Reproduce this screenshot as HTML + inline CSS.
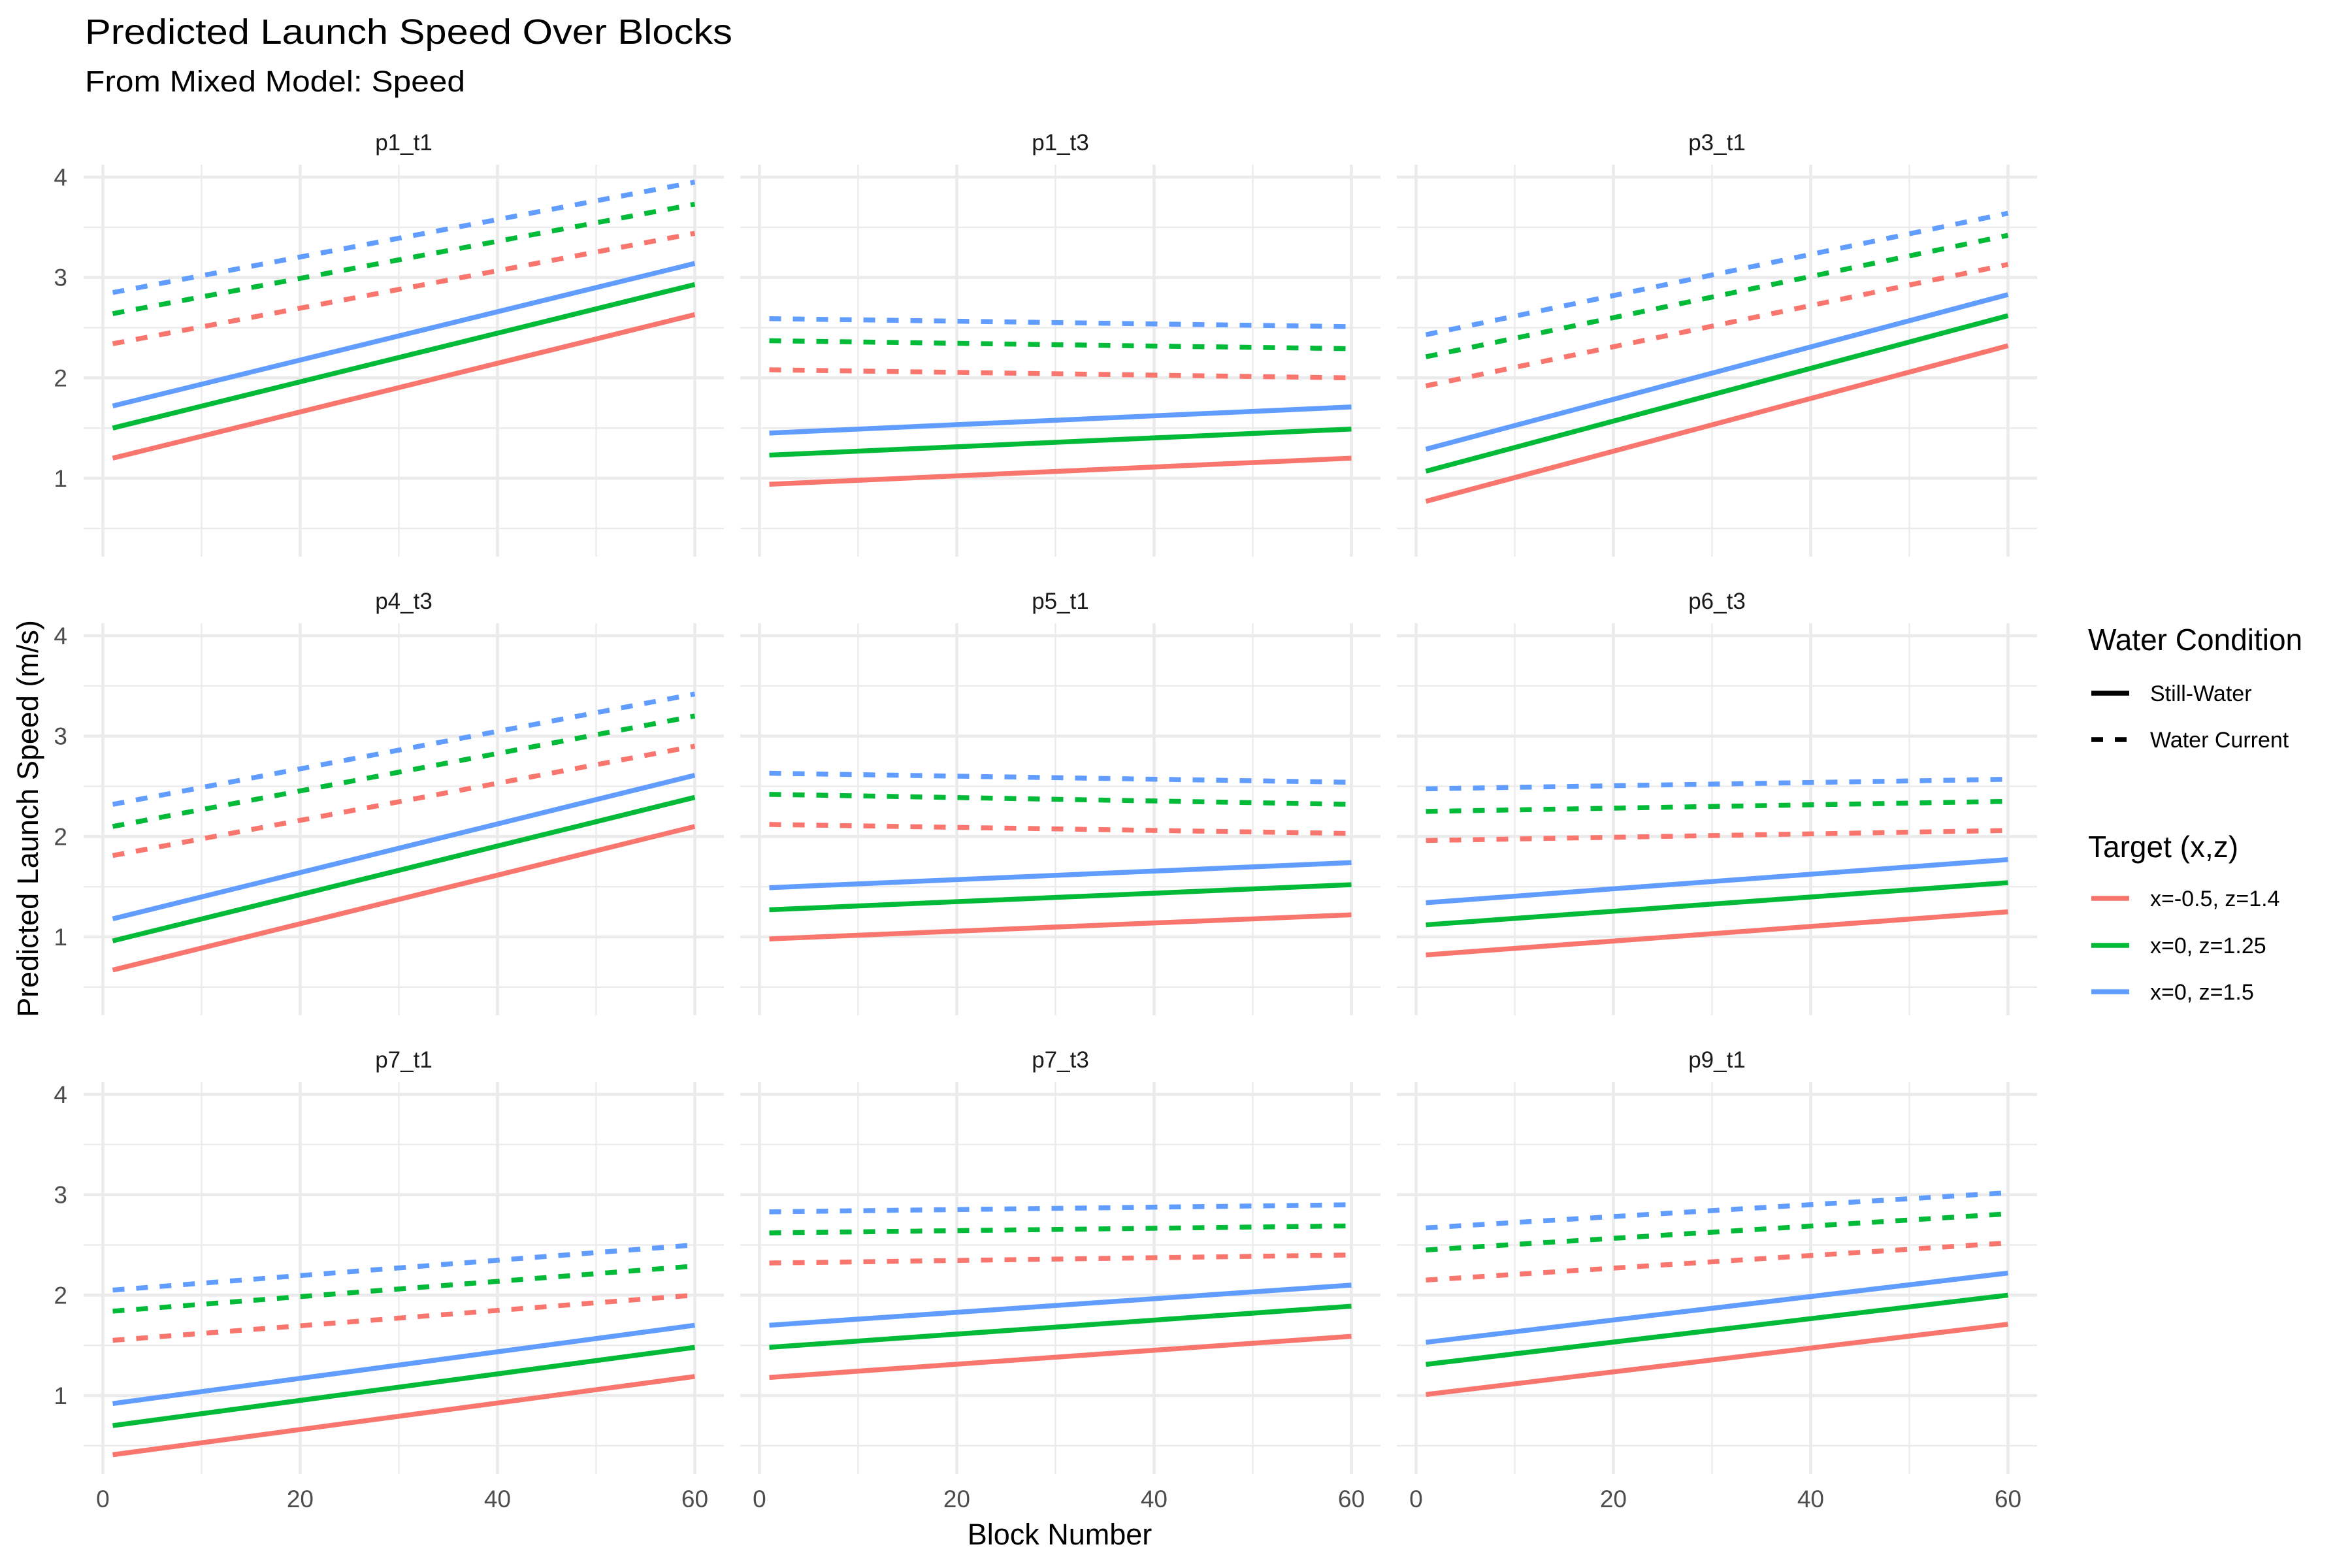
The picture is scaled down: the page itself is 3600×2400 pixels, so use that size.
<!DOCTYPE html>
<html><head><meta charset="utf-8"><style>
html,body{margin:0;padding:0;background:#fff;}
svg{display:block;font-family:"Liberation Sans",sans-serif;}
</style></head><body>
<svg id="chart" width="3600" height="2400" viewBox="0 0 3600 2400" xmlns="http://www.w3.org/2000/svg">
<text x="130" y="67" font-size="54" fill="#000" textLength="991" lengthAdjust="spacingAndGlyphs">Predicted Launch Speed Over Blocks</text>
<text x="130" y="140" font-size="45" fill="#000" textLength="582" lengthAdjust="spacingAndGlyphs">From Mixed Model: Speed</text>
<text x="1622" y="2364" font-size="45" text-anchor="middle" fill="#000">Block Number</text>
<text x="0" y="0" font-size="45" text-anchor="middle" fill="#000" transform="translate(58,1253) rotate(-90)">Predicted Launch Speed (m/s)</text>
<g id="panels"></g>
<g>
<text x="3196" y="995" font-size="46" fill="#000">Water Condition</text>
<line x1="3201" y1="1061" x2="3259" y2="1061" stroke="#000" stroke-width="7.5"/>
<text x="3291" y="1073" font-size="34" fill="#000">Still-Water</text>
<line x1="3201" y1="1132" x2="3259" y2="1132" stroke="#000" stroke-width="7.5" stroke-dasharray="18,18"/>
<text x="3291" y="1144" font-size="34" fill="#000">Water Current</text>
<text x="3196" y="1312" font-size="46" fill="#000">Target (x,z)</text>
<line x1="3201" y1="1375" x2="3259" y2="1375" stroke="#F8766D" stroke-width="7.5"/>
<text x="3291" y="1387" font-size="34" fill="#000">x=-0.5, z=1.4</text>
<line x1="3201" y1="1447" x2="3259" y2="1447" stroke="#00BA38" stroke-width="7.5"/>
<text x="3291" y="1459" font-size="34" fill="#000">x=0, z=1.25</text>
<line x1="3201" y1="1518" x2="3259" y2="1518" stroke="#619CFF" stroke-width="7.5"/>
<text x="3291" y="1530" font-size="34" fill="#000">x=0, z=1.5</text>
</g>
</svg>
<script>
const panelNames = ["p1_t1","p1_t3","p3_t1","p4_t3","p5_t1","p6_t3","p7_t1","p7_t3","p9_t1"];
const targetNames = ["red","green","blue"];
const blockStart = 1;
const blockEnd = 60;
// [red, green, blue] start and end values, still water
const stillStart = [[1.2,1.5,1.72],[0.94,1.23,1.45],[0.77,1.07,1.29],[0.67,0.96,1.18],[0.98,1.27,1.49],[0.82,1.12,1.34],[0.41,0.7,0.92],[1.18,1.48,1.7],[1.01,1.31,1.53]];
const stillEnd = [[2.63,2.93,3.14],[1.2,1.49,1.71],[2.32,2.62,2.83],[2.1,2.39,2.61],[1.22,1.52,1.74],[1.25,1.54,1.77],[1.19,1.48,1.7],[1.59,1.89,2.1],[1.71,2.0,2.22]];
const currentStart = [[2.34,2.64,2.85],[2.08,2.37,2.59],[1.92,2.21,2.43],[1.81,2.1,2.32],[2.12,2.42,2.63],[1.96,2.25,2.475],[1.55,1.84,2.05],[2.32,2.62,2.83],[2.15,2.45,2.67]];
const currentEnd = [[3.44,3.73,3.95],[2.0,2.29,2.51],[3.13,3.42,3.64],[2.9,3.2,3.42],[2.03,2.32,2.54],[2.06,2.35,2.57],[2.0,2.29,2.5],[2.4,2.69,2.9],[2.52,2.81,3.02]];
const xTicks = [0,20,40,60];
const xMinor = [10,30,50];
const yTicks = [1,2,3,4];
const yMinor = [0.5,1.5,2.5,3.5];

const colors = ["#F8766D","#00BA38","#619CFF"];
const NS = "http://www.w3.org/2000/svg";
const root = document.getElementById("panels");
const colLeft = [128,1133,2138], panelW = 980;
const rowTop = [252,954,1656], panelH = 600;
const xDom = [-1.95,62.95], yDom = [0.219,4.124];
function mk(tag, attrs, parent){const e=document.createElementNS(NS,tag);for(const k in attrs)e.setAttribute(k,attrs[k]);parent.appendChild(e);return e;}

panelNames.forEach((name,i)=>{
  const r=Math.floor(i/3), c=i%3;
  const L=colLeft[c], T=rowTop[r];
  const sx=v=>L+(v-xDom[0])/(xDom[1]-xDom[0])*panelW;
  const sy=v=>T+panelH-(v-yDom[0])/(yDom[1]-yDom[0])*panelH;
  const g=mk("g",{},root);
  
  
  const strip=mk("text",{x:L+panelW/2,y:T-22,"font-size":35,"text-anchor":"middle",fill:"#1a1a1a"},g);
  strip.textContent=name;
  
  
  yMinor.forEach(v=>{const l=mk("line",{x1:L,x2:L+panelW,y1:sy(v),y2:sy(v),stroke:"#ebebeb","stroke-width":2.3},g);
    
    });
  xMinor.forEach(v=>{const l=mk("line",{x1:sx(v),x2:sx(v),y1:T,y2:T+panelH,stroke:"#ebebeb","stroke-width":2.3},g);
    
    });
  yTicks.forEach(v=>{const l=mk("line",{x1:L,x2:L+panelW,y1:sy(v),y2:sy(v),stroke:"#ebebeb","stroke-width":4.6},g);
    
    
    if(c===0){const t=mk("text",{x:L-25,y:sy(v)+13,"font-size":37,"text-anchor":"end",fill:"#4d4d4d"},g);t.textContent=v;
      
      }});
  xTicks.forEach(v=>{const l=mk("line",{x1:sx(v),x2:sx(v),y1:T,y2:T+panelH,stroke:"#ebebeb","stroke-width":4.6},g);
    
    
    if(r===2){const t=mk("text",{x:sx(v),y:T+panelH+51,"font-size":37,"text-anchor":"middle",fill:"#4d4d4d"},g);t.textContent=v;
      
      }});
  for(let k=0;k<3;k++){
    const d=mk("line",{x1:sx(blockStart),y1:sy(currentStart[i][k]),x2:sx(blockEnd),y2:sy(currentEnd[i][k]),stroke:colors[k],"stroke-width":7.5,"stroke-dasharray":"18,18"},g);
    
    
    const s=mk("line",{x1:sx(blockStart),y1:sy(stillStart[i][k]),x2:sx(blockEnd),y2:sy(stillEnd[i][k]),stroke:colors[k],"stroke-width":7.5},g);
    
    
  }
});
</script>
</body></html>
